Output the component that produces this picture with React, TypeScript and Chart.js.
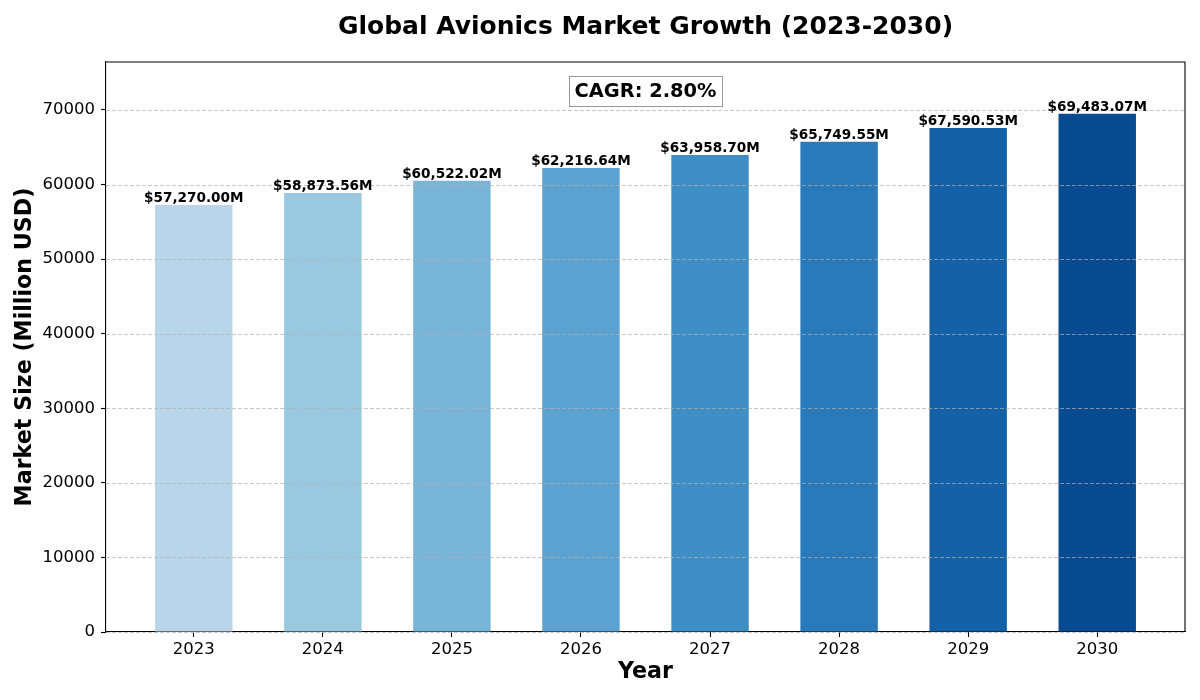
import { useEffect, useRef } from "react";
import { Chart, registerables } from "chart.js";

Chart.register(...registerables);

const years = ["2023", "2024", "2025", "2026", "2027", "2028", "2029", "2030"];
const marketSize = [57270.0, 58873.56, 60522.02, 62216.64, 63958.7, 65749.55, 67590.53, 69483.07];
const barColors = ["#b9d5ea", "#9ac8e0", "#79b5d9", "#5ba2d0", "#3f8ec5", "#2a7ab9", "#1461a8", "#084b91"];
const yTicks = [0, 10000, 20000, 30000, 40000, 50000, 60000, 70000];
const chartTitle = "Global Avionics Market Growth (2023-2030)";
const cagrLabel = "CAGR: 2.80%";
const xTitle = "Year";
const yTitle = "Market Size (Million USD)";

const FONT = "'DejaVu Sans', sans-serif";

const overlayPlugin = {
  id: "overlay",
  afterDatasetsDraw(chart: any) {
    const { ctx, chartArea } = chart;
    const yScale = chart.scales.y;
    ctx.save();
    // dashed grid on top of bars
    ctx.strokeStyle = "rgba(176,176,176,0.7)";
    ctx.lineWidth = 1;
    ctx.setLineDash([4, 2]);
    yTicks.forEach((t) => {
      const py = Math.round(yScale.getPixelForValue(t)) + 0.5;
      ctx.beginPath();
      ctx.moveTo(chartArea.left, py);
      ctx.lineTo(chartArea.right, py);
      ctx.stroke();
    });
    ctx.setLineDash([]);
    // frame top/right
    ctx.strokeStyle = "#000";
    ctx.lineWidth = 1.1;
    ctx.beginPath();
    ctx.moveTo(chartArea.left, chartArea.top);
    ctx.lineTo(chartArea.right, chartArea.top);
    ctx.lineTo(chartArea.right, chartArea.bottom);
    ctx.stroke();
    // value labels
    const meta = chart.getDatasetMeta(0);
    ctx.fillStyle = "#000";
    ctx.font = `bold 13.6px ${FONT}`;
    ctx.textAlign = "center";
    ctx.textBaseline = "alphabetic";
    meta.data.forEach((bar: any, i: number) => {
      const txt =
        "$" +
        marketSize[i].toLocaleString("en-US", { minimumFractionDigits: 2, maximumFractionDigits: 2 }) +
        "M";
      ctx.fillText(txt, bar.x, bar.y - 3);
    });
    // CAGR box
    const cx = (chartArea.left + chartArea.right) / 2;
    const cy = chartArea.bottom - 0.95 * (chartArea.bottom - chartArea.top);
    ctx.font = `bold 19.4px ${FONT}`;
    const w = ctx.measureText(cagrLabel).width;
    const padX = 5.5;
    const h = 30;
    ctx.fillStyle = "#fff";
    ctx.fillRect(cx - w / 2 - padX, cy - h / 2, w + 2 * padX, h);
    ctx.strokeStyle = "#999";
    ctx.lineWidth = 1;
    ctx.strokeRect(Math.round(cx - w / 2 - padX) + 0.5, Math.round(cy - h / 2) + 0.5, Math.round(w + 2 * padX), h);
    ctx.fillStyle = "#000";
    ctx.textBaseline = "middle";
    ctx.fillText(cagrLabel, cx, cy + 1);
    ctx.restore();
  },
};

export default function App() {
  const ref = useRef<HTMLCanvasElement | null>(null);
  useEffect(() => {
    document.body.style.margin = "0";
    const canvas = ref.current;
    if (!canvas) return;
    const yMax = Math.max(...marketSize) * 1.1;
    const chart = new Chart(canvas, {
      type: "bar",
      data: {
        datasets: [
          {
            data: marketSize.map((v, i) => ({ x: i, y: v })),
            backgroundColor: barColors,
            borderWidth: 0,
            barPercentage: 0.6,
            categoryPercentage: 1.0,
          },
        ],
      },
      options: {
        animation: false,
        responsive: false,
        devicePixelRatio: 1,
        layout: { padding: { left: 0, right: 15, top: 0, bottom: 0 } },
        plugins: {
          legend: { display: false },
          tooltip: { enabled: false },
          title: {
            display: true,
            text: chartTitle,
            fullSize: false,
            color: "#000",
            font: { family: FONT, size: 25, weight: "bold" },
            padding: { top: 12, bottom: 20 },
          },
        },
        scales: {
          x: {
            type: "linear",
            min: -0.68,
            max: 7.68,
            offset: false,
            afterBuildTicks: (scale: any) => {
              scale.ticks = years.map((_, i) => ({ value: i }));
            },
            afterFit: (scale: any) => {
              scale.height = 68;
            },
            ticks: {
              autoSkip: false,
              maxRotation: 0,
              color: "#000",
              font: { family: FONT, size: 16.5 },
              padding: 3,
              callback: (v: any) => years[Number(v)] ?? "",
            },
            grid: {
              display: true,
              offset: false,
              drawOnChartArea: false,
              drawTicks: true,
              tickLength: 5,
              tickColor: "#000",
              tickWidth: 1.1,
            },
            border: { display: true, color: "#000", width: 1.1 },
            title: {
              display: true,
              text: xTitle,
              color: "#000",
              font: { family: FONT, size: 22.2, weight: "bold" },
              padding: { top: 0, bottom: 14.7 },
            },
          },
          y: {
            type: "linear",
            min: 0,
            max: yMax,
            afterBuildTicks: (scale: any) => {
              scale.ticks = yTicks.map((v) => ({ value: v }));
            },
            afterFit: (scale: any) => {
              scale.width = 106;
            },
            ticks: {
              color: "#000",
              font: { family: FONT, size: 16.5 },
              padding: 6,
              callback: (v: any) => String(v),
            },
            grid: {
              display: true,
              drawOnChartArea: false,
              drawTicks: true,
              tickLength: 5,
              tickColor: "#000",
              tickWidth: 1.1,
            },
            border: { display: true, color: "#000", width: 1.1 },
            title: {
              display: true,
              text: yTitle,
              color: "#000",
              font: { family: FONT, size: 22.2, weight: "bold" },
              padding: { top: 12, bottom: 0 },
            },
          },
        },
      },
      plugins: [overlayPlugin],
    } as any);
    return () => chart.destroy();
  }, []);
  return (
    <div style={{ width: 1200, height: 700 }}>
      <canvas ref={ref} width={1200} height={700} style={{ display: "block" }} />
    </div>
  );
}
